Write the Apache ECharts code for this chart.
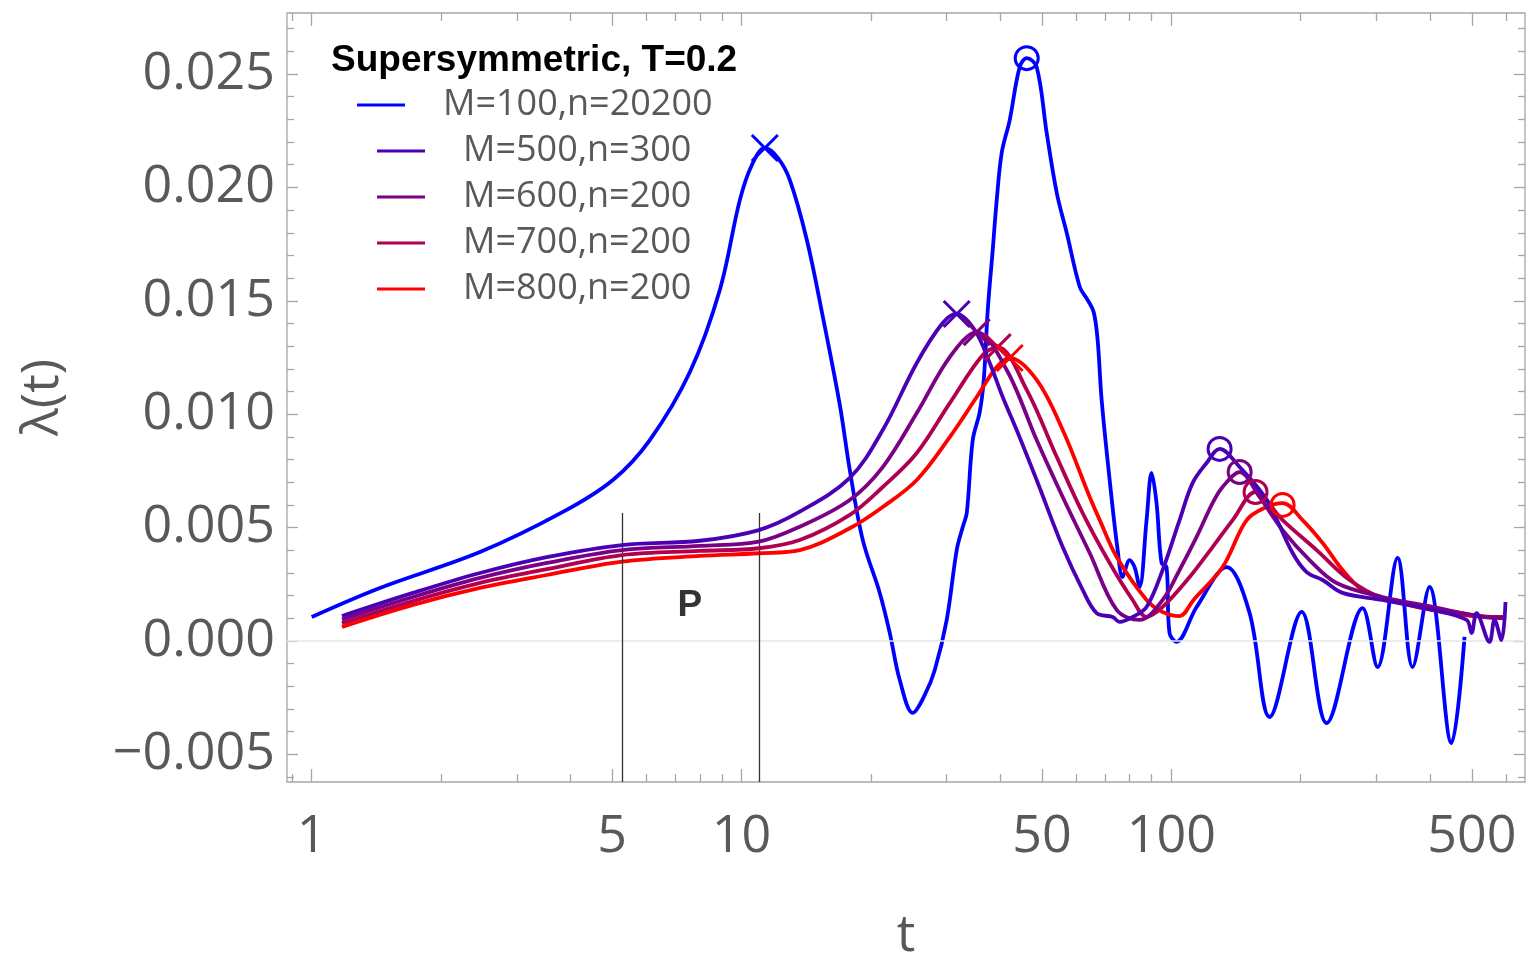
<!DOCTYPE html>
<html>
<head>
<meta charset="utf-8">
<script src="https://cdn.jsdelivr.net/npm/echarts@6/dist/echarts.min.js"></script>
<style>
  html, body { margin: 0; padding: 0; background: #fff; }
  #chart { width: 1526px; height: 955px; }
</style>
</head>
<body>
<div id="chart"></div>
<script>
// t values and lambda(t)
const tBlue = [1.00, 1.441, 2.463, 3.841, 5.020, 6.118, 7.583, 8.902, 9.909, 10.57, 11.33, 12.15, 12.95, 14.19, 15.46, 16.93, 17.86, 19.15, 20.97, 22.13, 23.34, 25.02, 26.69, 28.16, 30.02, 31.67, 32.71, 33.42, 34.51, 35.83, 36.61, 37.40, 38.41, 39.24, 40.30, 42.07, 44.38, 46.08, 48.60, 51.29, 54.14, 57.11, 61.23, 63.88, 65.96, 67.38, 68.84, 71.86, 75.01, 77.01, 79.96, 82.13, 84.35, 87.57, 89.95, 92.38, 94.89, 97.46, 99.04, 102.8, 114.5, 134.5, 152.1, 169.3, 201.0, 229.7, 278.6, 301.8, 336.0, 364.0, 398.7, 448.6, 481.0]
const lamBlue = [0.00106, 0.00234, 0.00392, 0.00569, 0.00710, 0.00886, 0.01186, 0.01548, 0.01944, 0.02099, 0.02174, 0.02130, 0.02033, 0.01768, 0.01429, 0.01041, 0.00754, 0.00445, 0.00212, 0.00035, -0.00172, -0.00317, -0.00238, -0.00128, 0.00093, 0.00401, 0.00503, 0.00564, 0.00886, 0.01010, 0.01151, 0.01459, 0.01724, 0.01944, 0.02152, 0.02297, 0.02531, 0.02570, 0.02531, 0.02240, 0.01975, 0.01799, 0.01561, 0.01503, 0.01451, 0.01327, 0.01063, 0.00710, 0.00401, 0.00282, 0.00357, 0.00326, 0.00238, 0.00533, 0.00741, 0.00608, 0.00344, 0.00326, 0.00035, -0.00004, 0.00150, 0.00326, 0.00123, -0.00335, 0.00128, -0.00362, 0.00145, -0.00115, 0.00366, -0.00115, 0.00238, -0.00450, 0.00018]

const t500 = [1.176, 1.720, 2.463, 3.525, 5.268, 8.000, 10.97, 13.66, 17.86, 21.31, 25.57, 29.38, 31.67, 34.87, 37.80, 40.52, 43.67, 48.60, 55.88, 62.19, 67.03, 73.03, 75.82, 81.28, 87.57, 95.45, 104.5, 112.1, 120.8, 129.5, 144.2, 166.6, 191.5, 206.4, 224.9, 250.2, 309.9, 405.3, 486.1, 499.4, 512.9, 549.8, 564.8, 586.3, 599.0]
const lam500 = [0.00110, 0.00212, 0.00300, 0.00370, 0.00423, 0.00442, 0.00489, 0.00570, 0.00719, 0.00930, 0.01226, 0.01402, 0.01442, 0.01371, 0.01226, 0.01076, 0.00930, 0.00710, 0.00414, 0.00225, 0.00123, 0.00106, 0.00084, 0.00106, 0.00150, 0.00313, 0.00533, 0.00697, 0.00785, 0.00847, 0.00767, 0.00622, 0.00388, 0.00304, 0.00269, 0.00212, 0.00181, 0.00137, 0.00093, 0.00035, 0.00123, -0.00004, 0.00093, 0.00004, 0.00172]

const t600 = [1.176, 1.720, 2.463, 3.525, 5.268, 8.000, 10.97, 13.66, 17.86, 21.31, 25.57, 30.51, 35.25, 41.40, 48.60, 55.88, 64.57, 74.62, 84.35, 95.45, 104.5, 114.5, 124.7, 131.6, 144.2, 160.4, 181.5, 209.7, 242.3, 309.9, 405.3, 529.7, 595.8]
const lam600 = [0.00095, 0.00194, 0.00278, 0.00344, 0.00401, 0.00419, 0.00438, 0.00504, 0.00622, 0.00767, 0.01005, 0.01252, 0.01362, 0.01195, 0.00886, 0.00635, 0.00388, 0.00137, 0.00093, 0.00181, 0.00313, 0.00459, 0.00608, 0.00679, 0.00745, 0.00635, 0.00489, 0.00357, 0.00256, 0.00194, 0.00150, 0.00106, 0.00101]

const t700 = [1.176, 1.720, 2.463, 3.525, 5.268, 8.000, 10.97, 13.66, 17.86, 21.31, 25.57, 30.51, 36.41, 39.45, 46.08, 54.14, 62.19, 71.86, 81.28, 87.57, 95.45, 110.3, 124.7, 138.9, 157.0, 181.5, 217.8, 259.8, 309.9, 405.3, 529.7, 595.8]
const lam700 = [0.00079, 0.00176, 0.00256, 0.00317, 0.00379, 0.00397, 0.00409, 0.00445, 0.00556, 0.00679, 0.00829, 0.01049, 0.01261, 0.01296, 0.01107, 0.00811, 0.00564, 0.00344, 0.00181, 0.00106, 0.00150, 0.00282, 0.00414, 0.00533, 0.00657, 0.00533, 0.00401, 0.00269, 0.00190, 0.00145, 0.00110, 0.00106]

const t800 = [1.176, 1.720, 2.463, 3.525, 5.268, 8.000, 10.97, 13.66, 17.86, 21.31, 25.57, 30.51, 35.25, 39.24, 42.07, 48.60, 55.88, 64.57, 68.15, 74.62, 87.57, 95.45, 104.5, 112.6, 131.6, 149.7, 166.6, 181.5, 202.0, 224.9, 250.2, 278.6, 321.9, 372.0, 443.8, 529.7, 595.8]
const lam800 = [0.00062, 0.00159, 0.00234, 0.00291, 0.00350, 0.00375, 0.00387, 0.00401, 0.00497, 0.00591, 0.00710, 0.00899, 0.01076, 0.01208, 0.01248, 0.01151, 0.00930, 0.00635, 0.00533, 0.00370, 0.00181, 0.00128, 0.00110, 0.00181, 0.00326, 0.00533, 0.00591, 0.00608, 0.00533, 0.00432, 0.00313, 0.00225, 0.00181, 0.00150, 0.00123, 0.00106, 0.00101]

// first maxima (x marks) and second maxima (circles), order: 100, 500, 600, 700, 800
const crossT = [11.33, 31.67, 35.25, 39.45, 42.07]
const crossLam = [0.02174, 0.01442, 0.01362, 0.01296, 0.01248]
const circleT = [46.08, 129.5, 144.2, 157.0, 181.5]
const circleLam = [0.02570, 0.00847, 0.00745, 0.00657, 0.00600]

const names = ['M=100,n=20200', 'M=500,n=300', 'M=600,n=200', 'M=700,n=200', 'M=800,n=200']
const colors = ['#0000ff', '#4a00b5', '#7a0085', '#b0004f', '#ff0000']

// P window
const pLines = [5.28, 11.0]
const pTop = 0.00564
const pLabel = [7.583, 0.00154]

// axes
const xMin = 0.876
const xMax = 665
const yMin = -0.006217
const yMax = 0.02769
const xMajor = [1, 5, 10, 50, 100, 500]
const xMinor = [0.9, 2, 3, 4, 6, 7, 8, 9, 20, 30, 40, 60, 70, 80, 90, 200, 300, 400, 600]
const yMajor = [-0.005, 0, 0.005, 0.01, 0.015, 0.02, 0.025]
const yMinor = [-0.006, -0.004, -0.003, -0.002, -0.001, 0.001, 0.002, 0.003, 0.004, 0.006, 0.007, 0.008, 0.009,
  0.011, 0.012, 0.013, 0.014, 0.016, 0.017, 0.018, 0.019, 0.021, 0.022, 0.023, 0.024, 0.026, 0.027]

const curves = [[tBlue, lamBlue], [t500, lam500], [t600, lam600], [t700, lam700], [t800, lam800]]

const frameColor = '#a6a6a6'
const labelColor = '#595959'
const font = 'Open Sans'

function xAxisOf(pos, ticks, len, labels) {
  return {
    type: 'log', logBase: 10, min: xMin, max: xMax, position: pos,
    axisLine: { show: false, onZero: false },
    splitLine: { show: false },
    axisTick: { show: true, inside: true, length: len, customValues: ticks, lineStyle: { color: frameColor, width: 1.3 } },
    axisLabel: labels
      ? { show: true, customValues: xMajor, fontSize: 52, color: labelColor, fontFamily: font, margin: 29, formatter: (v) => String(v) }
      : { show: false }
  }
}

function yAxisOf(pos, ticks, len, labels) {
  return {
    type: 'value', min: yMin, max: yMax, position: pos,
    axisLine: { show: false, onZero: false },
    splitLine: { show: false },
    axisTick: { show: true, inside: true, length: len, customValues: ticks, lineStyle: { color: frameColor, width: 1.3 } },
    axisLabel: labels
      ? {
          show: true, customValues: yMajor, fontSize: 52, color: labelColor, fontFamily: font, margin: 12,
          formatter: (v) => (v < -1e-9 ? '\u2212' : '') + Math.abs(v).toFixed(3)
        }
      : { show: false }
  }
}

const chart = echarts.init(document.getElementById('chart'))

const series = []
curves.forEach(([ts, ls], i) => {
  series.push({
    name: names[i],
    type: 'line',
    data: ts.map((t, j) => [t, ls[j]]),
    showSymbol: false,
    smooth: 0.35,
    lineStyle: { color: colors[i], width: 3.8 },
    itemStyle: { color: colors[i] },
    z: 3 + (i === 0 ? 0 : 5 - i)
  })
})

series.push({
  name: 'cross',
  type: 'scatter',
  data: crossT.map((t, i) => ({ value: [t, crossLam[i]], itemStyle: { borderColor: colors[i] } })),
  symbol: 'path://M0,0L26,26M26,0L0,26',
  symbolSize: 26,
  itemStyle: { color: 'rgba(0,0,0,0)', borderWidth: 3, opacity: 1 },
  z: 10
})
series.push({
  name: 'circle',
  type: 'scatter',
  data: circleT.map((t, i) => ({ value: [t, circleLam[i]], itemStyle: { borderColor: colors[i] } })),
  symbol: 'circle',
  symbolSize: 23,
  itemStyle: { color: 'rgba(0,0,0,0)', borderWidth: 3, opacity: 1 },
  z: 10
})
series.push({
  name: 'P',
  type: 'scatter',
  data: [pLabel],
  symbolSize: 1,
  itemStyle: { color: 'rgba(0,0,0,0)' },
  label: { show: true, position: 'inside', formatter: 'P', fontSize: 37, fontWeight: 'bold', color: '#000', fontFamily: 'Liberation Sans' },
  markLine: {
    silent: true,
    symbol: 'none',
    label: { show: false },
    data: [
      { yAxis: 0, lineStyle: { color: '#e6e6e6', width: 1.5, type: 'solid' } },
      ...pLines.map((t) => [
        { coord: [t, yMin], lineStyle: { color: '#333', width: 1.3, type: 'solid' } },
        { coord: [t, pTop] }
      ])
    ]
  },
  z: 1
})

const legendText = { fontSize: 36, color: labelColor, fontFamily: font, lineHeight: 46, padding: [0, 0, 0, 33] }

const option = {
  animation: false,
  backgroundColor: '#fff',
  grid: {
    left: 287, right: 1, top: 13, bottom: 173,
    show: true, borderColor: frameColor, borderWidth: 1.3,
    outerBoundsMode: 'none'
  },
  title: {
    text: 'Supersymmetric, T=0.2',
    left: 326, top: 37,
    textStyle: { fontSize: 37, fontWeight: 'bold', color: '#000', fontFamily: 'Liberation Sans' }
  },
  legend: [
    {
      data: [names[0]], left: 357, top: 82, orient: 'vertical', padding: 0,
      icon: 'rect', itemWidth: 48, itemHeight: 3, itemGap: 0,
      textStyle: legendText
    },
    {
      data: names.slice(1), left: 377, top: 128, orient: 'vertical', padding: 0,
      icon: 'rect', itemWidth: 48, itemHeight: 3, itemGap: 0,
      textStyle: legendText
    }
  ],
  xAxis: [
    Object.assign(xAxisOf('bottom', xMajor, 13, true), {
      name: 't', nameLocation: 'middle', nameGap: 128,
      nameTextStyle: { fontSize: 52, color: labelColor, fontFamily: font }
    }),
    xAxisOf('bottom', xMinor, 8, false),
    xAxisOf('top', xMajor, 13, false),
    xAxisOf('top', xMinor, 8, false)
  ],
  yAxis: [
    Object.assign(yAxisOf('left', yMajor, 11, true), {
      name: '\u03bb(t)', nameLocation: 'middle', nameGap: 218,
      nameTextStyle: { fontSize: 52, color: labelColor, fontFamily: font }
    }),
    yAxisOf('left', yMinor, 7, false),
    yAxisOf('right', yMajor, 11, false),
    yAxisOf('right', yMinor, 7, false)
  ],
  series: series
}

chart.setOption(option)
</script>
</body>
</html>
